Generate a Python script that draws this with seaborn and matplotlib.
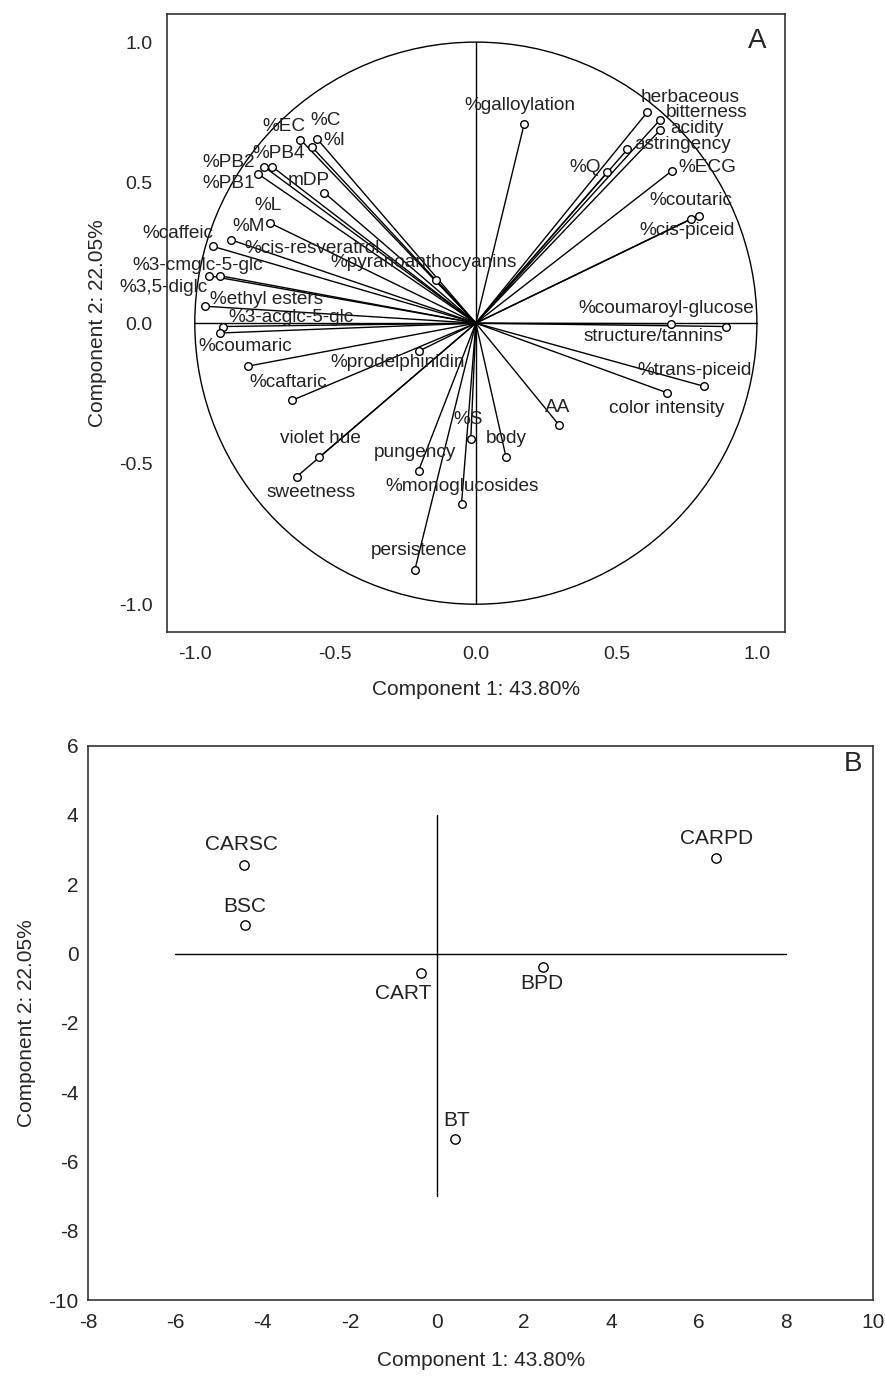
import numpy as np
import matplotlib
matplotlib.use("Agg")
import matplotlib.pyplot as plt
from matplotlib.patches import Circle
import seaborn as sns

# ---- loadings (panel A) ----
variables = [
    "%galloylation", "herbaceous", "bitterness", "acidity", "astringency",
    "%Q", "%ECG", "%coutaric", "%cis-piceid", "%coumaroyl-glucose",
    "structure/tannins", "%trans-piceid", "color intensity", "AA", "body",
    "%S", "pungency", "%monoglucosides", "persistence", "violet hue",
    "sweetness", "%caftaric", "%coumaric", "%prodelphinidin", "%pyranoanthocyanins",
    "%3-acglc-5-glc", "%cis-resveratrol", "%ethyl esters", "%3,5-diglc", "%3-cmglc-5-glc",
    "%caffeic", "%M", "%L", "mDP", "%PB1",
    "%PB2", "%PB4", "%EC", "%C", "%I",
]
comp1_loadings = [
    0.172, 0.610, 0.655, 0.657, 0.539,
    0.468, 0.699, 0.793, 0.766, 0.695,
    0.891, 0.813, 0.681, 0.297, 0.107,
    -0.018, -0.204, -0.051, -0.217, -0.557,
    -0.637, -0.655, -0.811, -0.204, -0.141,
    -0.898, -0.909, -0.962, -0.951, -0.912,
    -0.935, -0.870, -0.732, -0.539, -0.775,
    -0.754, -0.725, -0.624, -0.565, -0.584,
]
comp2_loadings = [
    0.709, 0.751, 0.723, 0.688, 0.618,
    0.537, 0.543, 0.383, 0.371, -0.002,
    -0.012, -0.225, -0.248, -0.364, -0.475,
    -0.412, -0.525, -0.643, -0.878, -0.477,
    -0.546, -0.275, -0.153, -0.100, 0.152,
    -0.012, -0.035, 0.060, 0.169, 0.169,
    0.273, 0.296, 0.356, 0.464, 0.531,
    0.557, 0.557, 0.653, 0.656, 0.628,
]

# ---- scores (panel B) ----
samples = ["CARSC", "BSC", "CART", "BPD", "CARPD", "BT"]
comp1_scores = [-4.43, -4.40, -0.36, 2.43, 6.41, 0.41]
comp2_scores = [2.56, 0.82, -0.57, -0.38, 2.77, -5.36]

# label offsets from the marker, in pixels (dx, dy up)
loading_label_offsets = [
    (-4, 18), (43, 15), (47, 7), (36, 1), (55, 5),
    (-22, 5), (35, 3), (-8, 15), (-4, -12), (-5, 15),
    (-73, -10), (-10, 16), (-1, -16), (-2, 18), (0, 18),
    (-3, 19), (-4, 18), (1, 17), (4, 19), (1, 19),
    (14, -16), (-4, 18), (-3, 20), (-21, -11), (-13, 18),
    (68, 9), (92, 84), (61, 7), (-45, -12), (-22, 10),
    (-35, 13), (17, 13), (-2, 18), (-16, 12), (-29, -10),
    (-35, 4), (7, 13), (-17, 13), (9, 18), (23, 6),
]
score_label_offsets = [(-2, 20), (0, 19), (-18, -20), (-1, -17), (0, 19), (2, 19)]

sns.set_style("white")
plt.rcParams['font.family'] = ['Liberation Sans', 'DejaVu Sans']
plt.rcParams['axes.unicode_minus'] = False

fig = plt.figure(figsize=(8.85, 13.76), dpi=100)
W, H = 885, 1376
ax1 = fig.add_axes([166.7 / W, 1 - 632.3 / H, (785 - 166.7) / W, (632.3 - 14) / H])
ax2 = fig.add_axes([88.3 / W, 1 - 1300 / H, (873 - 88.3) / W, (1300 - 745.7) / H])

LW = 1.0

# ---------------- panel A ----------------
ax1.add_patch(Circle((0, 0), 1, fill=False, lw=LW, color='black', zorder=1))
ax1.plot([-1, 1], [0, 0], color='black', lw=LW, zorder=1)
ax1.plot([0, 0], [-1, 1], color='black', lw=LW, zorder=1)
for x, y in zip(comp1_loadings, comp2_loadings):
    ax1.plot([0, x], [0, y], color='black', lw=LW, zorder=2)
sns.scatterplot(x=comp1_loadings, y=comp2_loadings, ax=ax1, s=30, color='white',
                edgecolor='black', linewidth=1, zorder=3, legend=False)
for name, x, y, (dx, dy) in zip(variables, comp1_loadings, comp2_loadings, loading_label_offsets):
    ax1.annotate(name, (x, y), xytext=(dx, dy), textcoords='offset pixels',
                 ha='center', va='center', fontsize=13.7, color='#222222', zorder=4)

ax1.set_xlim(-1.1, 1.1)
ax1.set_ylim(-1.1, 1.1)
ticks = [-1.0, -0.5, 0.0, 0.5, 1.0]
ax1.set_xticks(ticks)
ax1.set_yticks(ticks)
ax1.set_xticklabels([f"{t:.1f}" for t in ticks])
ax1.set_yticklabels([f"{t:.1f}" for t in ticks])
ax1.set_xlabel("Component 1: 43.80%", fontsize=15, labelpad=12)
ax1.set_ylabel("Component 2: 22.05%", fontsize=15, labelpad=9)
ax1.tick_params(direction='in', length=4, width=1, labelsize=14)
ax1.tick_params(axis='x', pad=10)
ax1.tick_params(axis='y', pad=10)
ax1.text(0.955, 0.956, "A", transform=ax1.transAxes, fontsize=20, ha='center', va='center')

# ---------------- panel B ----------------
ax2.plot([-6, 8], [0, 0], color='black', lw=LW, zorder=1)
ax2.plot([0, 0], [-7, 4], color='black', lw=LW, zorder=1)
sns.scatterplot(x=comp1_scores, y=comp2_scores, ax=ax2, s=45, color='white',
                edgecolor='black', linewidth=1, zorder=3, legend=False)
for name, x, y, (dx, dy) in zip(samples, comp1_scores, comp2_scores, score_label_offsets):
    ax2.annotate(name, (x, y), xytext=(dx, dy), textcoords='offset pixels',
                 ha='center', va='center', fontsize=15, color='#222222')

ax2.set_xlim(-8, 10)
ax2.set_ylim(-10, 6)
ax2.set_xticks(range(-8, 11, 2))
ax2.set_yticks(range(-10, 7, 2))
ax2.set_xlabel("Component 1: 43.80%", fontsize=15, labelpad=14)
ax2.set_ylabel("Component 2: 22.05%", fontsize=15, labelpad=9)
ax2.tick_params(direction='in', length=4, width=1, labelsize=15)
ax2.tick_params(axis='x', pad=9)
ax2.tick_params(axis='y', pad=7)
ax2.text(0.975, 0.967, "B", transform=ax2.transAxes, fontsize=20, ha='center', va='center')

for ax in (ax1, ax2):
    for sp in ax.spines.values():
        sp.set_color('#333333')
        sp.set_linewidth(1.2)

fig.savefig("out.png", dpi=100)
